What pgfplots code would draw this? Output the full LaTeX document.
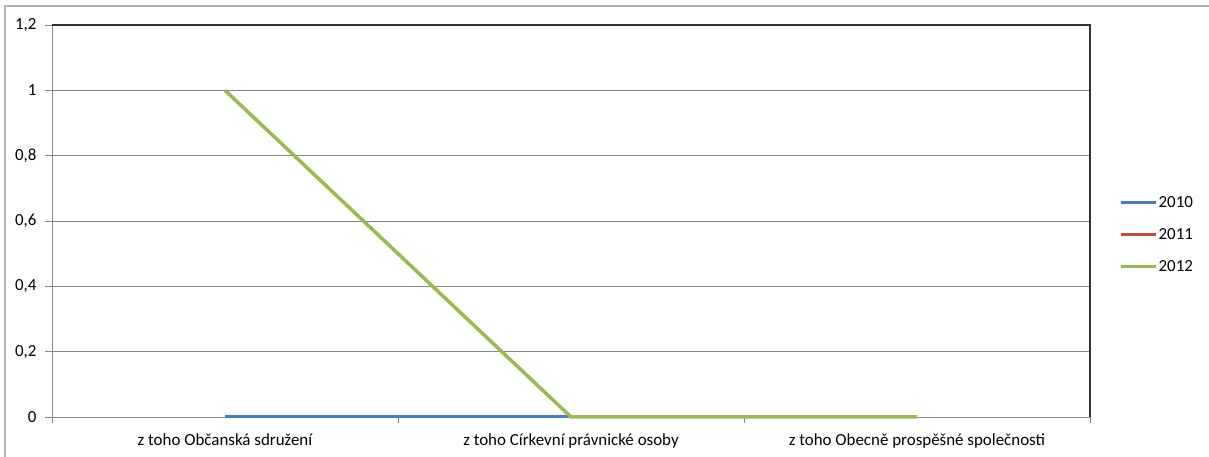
\documentclass[border=0pt]{standalone}
\usepackage{fontspec}
\setmainfont{Carlito}
\usepackage{pgfplots}
\pgfplotsset{compat=1.18}
\definecolor{xlblue}{HTML}{4A7EBB}
\definecolor{xlred}{HTML}{BE4B48}
\definecolor{xlgreen}{HTML}{98B954}
\definecolor{gridgray}{HTML}{868686}
\definecolor{framegray}{HTML}{B3B3B3}
\begin{document}
\begin{tikzpicture}[x=1bp,y=1bp]
\useasboundingbox (0,0) rectangle (1209,457);
\draw[framegray, line width=1.6bp] (5,0) -- (5,451) -- (1209,451);
\begin{axis}[
  at={(52bp,40bp)}, anchor=south west,
  scale only axis, width=1038bp, height=392bp,
  xmin=-0.5, xmax=2.5, ymin=0, ymax=1.2,
  xtick={0,1,2},
  xticklabels={z toho Občanská sdružení, z toho Církevní právnické osoby, z toho Obecně prospěšné společnosti},
  major x tick style={draw=none},
  minor xtick={-0.5,0.5,1.5,2.5},
  ytick={0,0.2,0.4,0.6,0.8,1,1.2},
  yticklabels={0,{0,2},{0,4},{0,6},{0,8},1,{1,2}},
  xtick pos=bottom, ytick pos=left,
  tick align=outside,
  major tick length=7bp, minor tick length=6bp,
  every tick/.style={gridgray, line width=0.8bp},
  ymajorgrids, grid style={gridgray, line width=0.8bp},
  axis line style={draw=none},
  ticklabel style={font=\fontsize{17}{19}\selectfont, black},
  yticklabel style={xshift=-5bp},
  xticklabel style={yshift=-6bp},
  legend style={at={(1.025,0.465)}, anchor=west, draw=none, fill=none,
    font=\fontsize{17}{19}\selectfont, row sep=17.5bp,
    nodes={inner sep=1bp}},
  legend cell align=left,
  legend image code/.code={\draw[#1] (0bp,0bp) -- (35bp,0bp);},
  clip=false,
]
\draw[gridgray, line width=0.9bp] (rel axis cs:0,0) -- (rel axis cs:1,0);
\draw[gridgray, line width=0.9bp] (rel axis cs:0,0) -- (rel axis cs:0,1);
\draw[black!80, line width=1.2bp] (rel axis cs:0,1) -- (rel axis cs:1,1) -- (rel axis cs:1,0);
\addplot[xlblue, line width=3bp] coordinates {(0,0) (1,0) (2,0)};
\addlegendentry{2010}
\addplot[xlred, line width=3bp] coordinates {(1,0) (2,0)};
\addlegendentry{2011}
\addplot[xlgreen, line width=3.5bp] coordinates {(0,1) (1,0) (2,0)};
\addlegendentry{2012}
\end{axis}
\end{tikzpicture}
\end{document}
